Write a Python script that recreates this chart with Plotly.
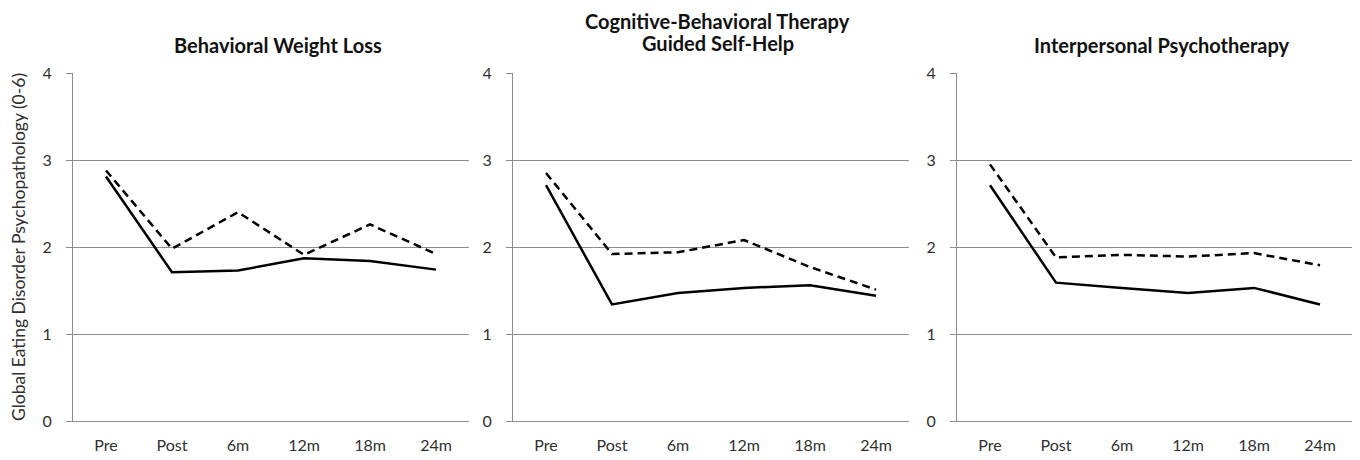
import plotly.graph_objects as go

categories = ["Pre", "Post", "6m", "12m", "18m", "24m"]
titles = [["Behavioral Weight Loss"],
          ["Cognitive-Behavioral Therapy", "Guided Self-Help"],
          ["Interpersonal Psychotherapy"]]
y_ticks = [0, 1, 2, 3, 4]
y_title = "Global Eating Disorder Psychopathology (0-6)"

bwl_solid = [2.81, 1.71, 1.73, 1.87, 1.84, 1.74]
bwl_dash = [2.88, 1.98, 2.40, 1.91, 2.26, 1.92]
cbt_solid = [2.71, 1.34, 1.47, 1.53, 1.56, 1.44]
cbt_dash = [2.85, 1.92, 1.94, 2.08, 1.77, 1.51]
ipt_solid = [2.71, 1.59, 1.53, 1.47, 1.53, 1.34]
ipt_dash = [2.95, 1.88, 1.91, 1.89, 1.93, 1.79]

panels = [(bwl_solid, bwl_dash), (cbt_solid, cbt_dash), (ipt_solid, ipt_dash)]

W, H = 1360, 460
OFF = 8  # page body margin
x_px = [(73 - OFF, 469 - OFF), (513 - OFF, 909 - OFF), (957 - OFF, 1353 - OFF)]
y_top, y_bot = 73 - OFF, 421 - OFF
title_y = [[45 - OFF], [21 - OFF, 43 - OFF], [45 - OFF]]
FONT = "Lato, 'Open Sans', sans-serif"
GRID = "#8c8c8c"
TXT = "#303030"

fig = go.Figure()
for i, (solid, dash) in enumerate(panels):
    n = "" if i == 0 else str(i + 1)
    fig.add_trace(go.Scatter(x=categories, y=dash, mode="lines",
                             line=dict(color="black", width=2.5, dash="8px,5px"),
                             xaxis="x" + n, yaxis="y" + n, showlegend=False))
    fig.add_trace(go.Scatter(x=categories, y=solid, mode="lines",
                             line=dict(color="black", width=2.5),
                             xaxis="x" + n, yaxis="y" + n, showlegend=False))
    x0, x1 = x_px[i]
    fig.layout["xaxis" + n] = dict(
        domain=[x0 / W, x1 / W], anchor="y" + n, type="category",
        categoryorder="array", categoryarray=categories, range=[-0.5, 5.5],
        showgrid=False, showline=True, linecolor=GRID, linewidth=1.2,
        ticks="", ticklabelstandoff=10, automargin=False,
        tickfont=dict(family=FONT, size=16, color=TXT), fixedrange=True)
    fig.layout["yaxis" + n] = dict(
        domain=[1 - y_bot / H, 1 - y_top / H], anchor="x" + n,
        range=[0, 4], tickvals=y_ticks, showgrid=True, gridcolor=GRID,
        gridwidth=1.2, showline=True, linecolor=GRID, linewidth=1.2,
        ticks="outside", ticklen=6, tickcolor=GRID, tickwidth=1.2,
        ticklabelstandoff=11, zeroline=False, automargin=False,
        tickfont=dict(family=FONT, size=16, color=TXT), fixedrange=True)
    for line_text, ty in zip(titles[i], title_y[i]):
        fig.add_annotation(text="<b>" + line_text + "</b>", xref="paper", yref="paper",
                           x=(x0 + x1) / 2 / W + 0.005, y=1 - ty / H,
                           xanchor="center", yanchor="middle", showarrow=False,
                           borderpad=0,
                           font=dict(family=FONT, size=20, color="#111"))

fig.layout.yaxis.title = dict(text=y_title, font=dict(family=FONT, size=17.5, color=TXT),
                              standoff=18)

fig.update_layout(width=W, height=H, margin=dict(l=0, r=0, t=0, b=0, autoexpand=False),
                  paper_bgcolor="white", plot_bgcolor="white")
fig.write_html("out.html")
